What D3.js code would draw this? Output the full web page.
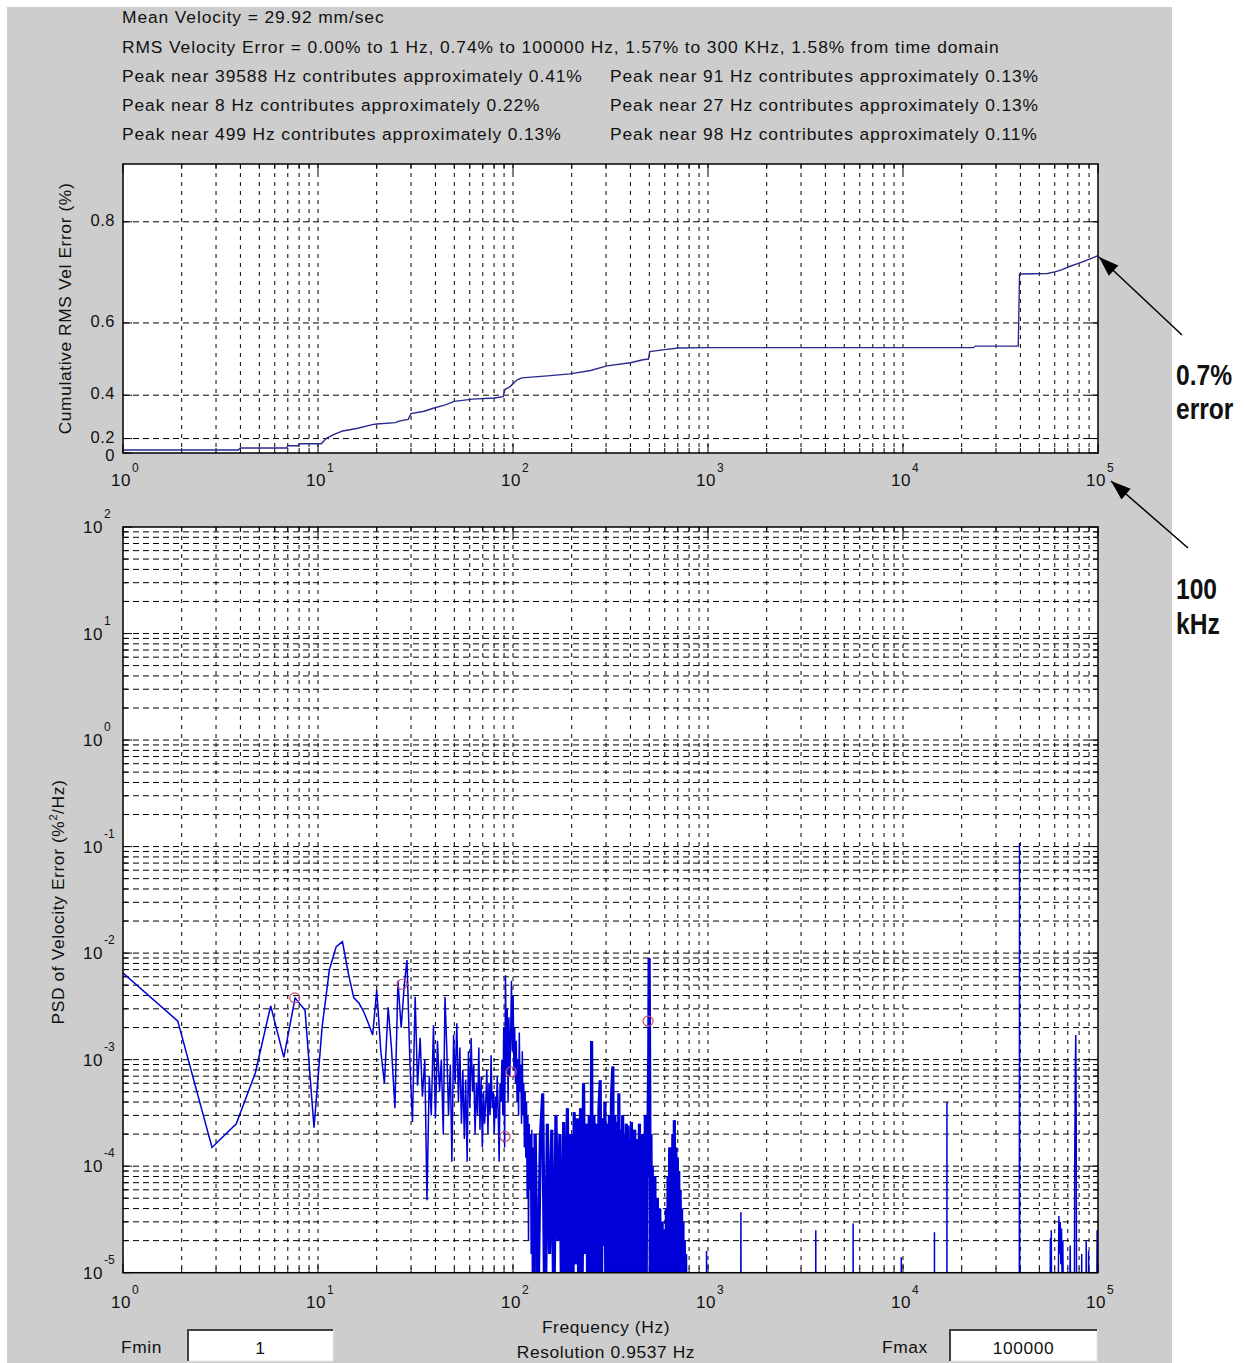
<!DOCTYPE html>
<html>
<head>
<meta charset="utf-8">
<script src="https://cdn.jsdelivr.net/npm/d3@7"></script>
<style>
  body { margin: 0; background: #fff; }
  svg text { font-family: "Liberation Sans", Arial, sans-serif; fill: #111; }
</style>
</head>
<body>
<svg id="chart" width="1244" height="1363"></svg>
<script>
// ---- text above the plots
const headerLines = [
  "Mean Velocity = 29.92 mm/sec",
  "RMS Velocity Error = 0.00% to 1 Hz, 0.74% to 100000 Hz, 1.57% to 300 KHz, 1.58% from time domain"
];
const peakNotesLeft = [
  "Peak near 39588 Hz contributes approximately 0.41%",
  "Peak near 8 Hz contributes approximately 0.22%",
  "Peak near 499 Hz contributes approximately 0.13%"
];
const peakNotesRight = [
  "Peak near 91 Hz contributes approximately 0.13%",
  "Peak near 27 Hz contributes approximately 0.13%",
  "Peak near 98 Hz contributes approximately 0.11%"
];

// ---- axes ticks
const freqExps = [0, 1, 2, 3, 4, 5];
const rmsTicks = [0, 0.2, 0.4, 0.6, 0.8];
const psdExps = [-5, -4, -3, -2, -1, 0, 1, 2];

// ---- cumulative RMS velocity error (%) vs frequency (Hz)
const cumFreq = [1, 3.9, 4, 6.9, 7, 7.9, 8, 10.4, 11, 12, 13.4, 16, 19, 20, 25, 26, 29, 30, 35, 39,
  45, 50, 62, 80, 89, 91, 95, 99, 105, 111, 150, 196, 250, 303, 400, 464, 495, 503, 600, 704,
  1000, 5000, 23000, 23500, 39000, 39600, 55000, 60000, 65000, 72000, 80000, 90000, 100000];
const cumRms = [0.091, 0.091, 0.118, 0.118, 0.142, 0.142, 0.16, 0.16, 0.2, 0.225, 0.247, 0.262, 0.28, 0.283, 0.29, 0.297, 0.305, 0.33, 0.34, 0.352,
  0.365, 0.378, 0.386, 0.39, 0.395, 0.42, 0.425, 0.435, 0.45, 0.456, 0.462, 0.468, 0.478, 0.491, 0.5, 0.508, 0.51, 0.53, 0.535, 0.539,
  0.54, 0.54, 0.54, 0.544, 0.544, 0.704, 0.705, 0.708, 0.712, 0.719, 0.725, 0.732, 0.739];

// ---- PSD of velocity error, [Hz, %^2/Hz]
const psdLowBand = [
  [0.954, 7.0e-3], [1.91, 2.3e-3], [2.86, 1.5e-4], [3.81, 2.5e-4], [4.77, 7.5e-4], [5.72, 3.2e-3],
  [6.68, 1.05e-3], [7.63, 3.8e-3], [8.58, 2.9e-3], [9.54, 2.3e-4], [10.49, 2.0e-3], [11.44, 7.0e-3],
  [12.4, 1.15e-2], [13.35, 1.28e-2], [14.3, 6.5e-3], [15.26, 3.8e-3], [16.21, 3.4e-3], [17.17, 2.8e-3],
  [18.12, 2.2e-3], [19.07, 1.7e-3]
];
const psdMidBand = [
  [20.0, 4.5e-3], [21.0, 1.2e-3], [21.9, 6.0e-4], [22.9, 3.1e-3], [23.8, 1.3e-3], [24.8, 3.5e-4],
  [25.7, 5.5e-3], [26.7, 2.0e-3], [27.7, 5.0e-3], [28.6, 8.6e-3], [29.6, 9.5e-4], [30.5, 2.6e-4],
  [31.5, 3.9e-3], [32.4, 5.7e-4], [33.4, 1.6e-3], [34.3, 4.5e-4], [35.3, 1.0e-3], [36.2, 4.8e-5],
  [37.2, 7.0e-4], [38.1, 3.0e-4], [39.1, 2.1e-3], [40.0, 2.8e-4], [41.0, 1.5e-3], [42.0, 5.0e-4],
  [42.9, 1.0e-3], [43.9, 2.0e-4], [44.8, 3.9e-3], [45.8, 1.2e-3], [46.7, 3.0e-4], [47.7, 9.0e-4],
  [48.6, 1.1e-4], [49.6, 1.7e-3], [50.5, 6.0e-4], [51.5, 2.2e-3], [52.5, 4.0e-4], [53.4, 1.3e-3],
  [54.4, 2.5e-4], [55.3, 8.0e-4], [56.3, 1.8e-4], [57.2, 6.5e-4], [58.2, 1.1e-4], [59.1, 1.2e-3],
  [60.1, 3.5e-4], [61.0, 1.6e-3], [62.0, 5.0e-4], [62.9, 9.0e-4], [63.9, 2.0e-4], [64.9, 6.0e-4],
  [65.8, 3.0e-4], [66.8, 1.3e-3], [67.7, 2.2e-4], [68.7, 7.0e-4], [69.6, 1.5e-4], [70.6, 5.0e-4],
  [71.5, 2.5e-4], [72.5, 4.0e-4], [73.4, 8.0e-4], [74.4, 2.0e-4], [75.3, 6.0e-4], [76.3, 3.0e-4],
  [77.2, 1.1e-3], [78.2, 3.5e-4], [79.2, 5.0e-4], [80.1, 2.0e-4], [81.1, 4.5e-4], [82.0, 2.8e-4],
  [83.0, 7.0e-4], [83.9, 3.5e-4], [84.9, 1.1e-4], [85.8, 6.0e-4], [86.8, 4.0e-4], [87.7, 1.0e-3],
  [88.7, 3.0e-4], [89.6, 2.0e-3], [90.6, 1.5e-4], [91.5, 6.2e-3], [92.5, 8.0e-4], [93.4, 3.0e-3],
  [94.4, 4.0e-4], [95.3, 2.5e-3], [96.3, 7.0e-4], [97.2, 1.5e-3], [98.2, 5.5e-3], [99.2, 1.2e-3],
  [100.1, 4.0e-3], [101.1, 8.0e-4], [102.0, 2.0e-3], [103.0, 6.0e-4], [103.9, 1.5e-3], [104.9, 4.0e-4],
  [105.8, 1.0e-3], [106.8, 3.0e-4], [107.7, 1.8e-3], [108.7, 5.0e-4], [109.6, 9.0e-4], [110.6, 2.5e-4],
  [111.6, 1.2e-3], [112.5, 3.0e-4], [113.5, 6.0e-4], [114.4, 1.5e-4], [115.4, 5.0e-4], [116.3, 1.2e-4],
  [117.3, 4.0e-4], [118.2, 5.0e-5], [119.2, 3.0e-4], [120.1, 2.0e-5], [121.1, 2.5e-4], [122.0, 6.0e-5],
  [123.0, 2.0e-4], [123.9, 1.5e-5], [124.9, 2.2e-4], [125.9, 4.0e-6], [126.8, 1.5e-4], [127.8, 3.0e-6],
  [128.7, 2.0e-4], [129.7, 8.0e-6]
];
const psdDenseBand = [
  [130, 2.0e-4], [134, 3e-6], [138, 1.8e-4], [142, 4.8e-4], [146, 2e-6], [150, 2.5e-4], [154, 1.5e-5],
  [158, 2.2e-4], [162, 4e-6], [166, 3.0e-4], [170, 2e-5], [174, 2.0e-4], [178, 3e-6], [182, 2.6e-4],
  [186, 5e-6], [190, 3.5e-4], [194, 8e-6], [198, 2.0e-4], [202, 2e-6], [206, 3.2e-4], [210, 1.2e-5],
  [214, 2.8e-4], [218, 3e-6], [222, 3.5e-4], [226, 6e-6], [230, 6.0e-4], [234, 1.5e-5], [238, 2.5e-4],
  [242, 4e-6], [246, 3.0e-4], [250, 2e-6], [253, 1.5e-3], [256, 5e-6], [260, 3.0e-4], [264, 8e-6],
  [268, 2.5e-4], [272, 1e-6], [276, 3.5e-4], [280, 6.4e-4], [284, 4e-6], [288, 2.8e-4], [292, 1.8e-5],
  [296, 4.0e-4], [300, 3e-6], [304, 2.5e-4], [308, 2e-6], [312, 3.0e-4], [316, 6e-6], [320, 4.5e-4],
  [325, 8.6e-4], [329, 2e-6], [333, 3.0e-4], [337, 5e-6], [341, 2.6e-4], [345, 1e-5], [349, 4.8e-4],
  [353, 3e-6], [357, 2.2e-4], [361, 4e-6], [365, 3.0e-4], [369, 2e-6], [373, 2.0e-4], [377, 6e-6],
  [381, 2.5e-4], [385, 1.5e-6], [389, 2.4e-4], [393, 4e-6], [397, 1.8e-4], [401, 2e-6], [405, 2.6e-4],
  [409, 8e-6], [413, 1.5e-4], [417, 3e-6], [421, 2.2e-4], [425, 1e-6], [429, 1.2e-4], [433, 5e-6],
  [437, 1.8e-4], [441, 2e-6], [445, 2.5e-4], [449, 4e-6], [453, 1.4e-4], [457, 2e-6], [461, 2.0e-4],
  [465, 3e-6], [469, 1.6e-4], [473, 5e-6], [477, 3.0e-4], [481, 2e-6], [485, 2.0e-4], [489, 8e-5],
  [493, 3.0e-4], [497, 1.2e-3], [499, 9.0e-3], [501, 2.0e-3], [503, 4.0e-4], [506, 6e-6], [510, 2.0e-4],
  [514, 3e-6], [518, 1.0e-4], [522, 2e-6], [526, 6e-5], [530, 1e-6], [534, 8e-5], [538, 3e-6],
  [542, 4e-5], [546, 1e-6], [550, 5e-5], [554, 2e-6], [558, 3.5e-5], [562, 1e-6], [566, 4e-5],
  [570, 2e-6], [574, 2e-5], [578, 1e-6], [582, 3e-5], [586, 2e-6], [590, 1.5e-5], [594, 1e-6],
  [600, 2.5e-5], [606, 2e-6], [612, 4e-5], [618, 1e-6], [624, 8e-5], [630, 3e-6], [636, 1.5e-4],
  [642, 2e-6], [648, 1.2e-4], [654, 5e-6], [660, 2.0e-4], [666, 3e-6], [672, 2.7e-4], [678, 4e-6],
  [684, 1.5e-4], [690, 2e-6], [696, 1.2e-4], [702, 6e-6], [708, 9e-5], [714, 2e-6], [720, 6e-5],
  [726, 3e-6], [732, 4e-5], [738, 2e-6], [744, 3e-5], [750, 1e-6], [756, 2e-5], [762, 3e-6],
  [768, 1.5e-5], [775, 1e-6], [790, 1e-6]
];
const psdHighBand = [
  [980, 1e-6], [983, 1.6e-5], [986, 1e-6], [1470, 1e-6], [1475, 3.7e-5], [1480, 1e-6],
  [3560, 1e-6], [3570, 2.5e-5], [3580, 1e-6], [5540, 1e-6], [5550, 2.9e-5], [5560, 1e-6],
  [9790, 1e-6], [9800, 1.4e-5], [9810, 1e-6], [14490, 1e-6], [14500, 2.4e-5], [14510, 1e-6],
  [16790, 1e-6], [16800, 4e-4], [16810, 1e-6],
  [39400, 1e-6], [39500, 1.5e-5], [39588, 0.108], [39680, 1.5e-5], [39800, 1e-6],
  [56500, 1e-6], [57000, 2.1e-5], [57300, 8e-6], [57600, 2.5e-5], [58000, 1e-6],
  [62000, 1e-6], [63000, 3.4e-5], [63500, 1.5e-5], [64000, 3.0e-5], [64500, 1.2e-5], [65000, 2.6e-5],
  [65500, 8e-6], [66000, 2.0e-5], [67000, 1e-6], [71000, 1e-6], [72000, 1.8e-5], [73000, 1e-6],
  [75500, 1e-6], [76000, 1.2e-4], [76500, 8e-4], [76900, 1.7e-3], [77300, 3e-4], [77800, 1e-6],
  [82000, 1e-6], [82500, 1.5e-5], [83000, 1e-6], [86500, 1e-6], [87000, 2e-5], [87500, 1e-6],
  [89000, 1e-6], [89500, 1.6e-5], [90000, 1e-6], [98000, 1e-6], [99000, 2.5e-5], [100000, 1e-6]
];
// red circles on the listed peaks
const peakMarkers = [[7.6, 3.8e-3], [27, 5.1e-3], [91, 1.9e-4], [98, 7.7e-4], [493, 2.3e-3]];

// ---- layout
const svg = d3.select("#chart");
const left = 123, right = 1098;
const top1 = 164, bottom1 = 453;
const top2 = 527, bottom2 = 1272.7;
const lineColor = "#0000d8";
const fs = 17.4;

svg.append("rect").attr("x", 7).attr("y", 7).attr("width", 1165).attr("height", 1356).attr("fill", "#cdcdcd");

const x = d3.scaleLog().domain([1, 1e5]).range([left, right]);
const yRms = d3.scalePow().exponent(2).domain([0, Math.sqrt(0.8)]).range([bottom1, top1]);
const yPsd = d3.scaleLog().domain([1e-5, 1e2]).range([bottom2, top2]);

// header text
const txt = (g, s, tx, ty) =>
  g.append("text").attr("x", tx).attr("y", ty).attr("font-size", fs)
    .attr("letter-spacing", 0.9).text(s);
txt(svg, headerLines[0], 122, 23);
txt(svg, headerLines[1], 122, 53);
peakNotesLeft.forEach((s, i) => txt(svg, s, 122, 82 + i * 29));
peakNotesRight.forEach((s, i) => txt(svg, s, 610, 82 + i * 29));

// minor values for log axes
function logValues(lo, hi) {
  const out = [];
  for (let e = lo; e < hi; e++) for (let m = 1; m < 10; m++) out.push(m * Math.pow(10, e));
  out.push(Math.pow(10, hi));
  return out;
}
const xValues = logValues(0, 5);
const psdValues = logValues(-5, 2);

function drawFrame(g, yTop, yBot, yScale, yGrid, yMajor) {
  g.append("rect").attr("x", left).attr("y", yTop).attr("width", right - left).attr("height", yBot - yTop)
    .attr("fill", "#fff");
  // vertical grid
  g.selectAll(".vg").data(xValues.filter(v => v > 1 && v < 1e5)).enter().append("line")
    .attr("x1", d => x(d)).attr("x2", d => x(d)).attr("y1", yTop).attr("y2", yBot)
    .attr("stroke", "#000").attr("stroke-width", 1).attr("stroke-dasharray", "4,5");
  // horizontal grid
  g.selectAll(".hg").data(yGrid).enter().append("line")
    .attr("x1", left).attr("x2", right).attr("y1", d => yScale(d)).attr("y2", d => yScale(d))
    .attr("stroke", "#000").attr("stroke-width", 1).attr("stroke-dasharray", "6,4");
  // ticks inside the box
  xValues.forEach(v => {
    const len = Number.isInteger(Math.log10(v)) ? 9 : 5;
    g.append("line").attr("x1", x(v)).attr("x2", x(v)).attr("y1", yBot).attr("y2", yBot - len).attr("stroke", "#000");
    g.append("line").attr("x1", x(v)).attr("x2", x(v)).attr("y1", yTop).attr("y2", yTop + len).attr("stroke", "#000");
  });
  yMajor.forEach(v => {
    const len = v.major ? 9 : 5;
    g.append("line").attr("x1", left).attr("x2", left + len).attr("y1", yScale(v.v)).attr("y2", yScale(v.v)).attr("stroke", "#000");
    g.append("line").attr("x1", right).attr("x2", right - len).attr("y1", yScale(v.v)).attr("y2", yScale(v.v)).attr("stroke", "#000");
  });
}

function powLabel(g, tx, ty, exp, anchor) {
  if (anchor === "end") {
    g.append("text").attr("x", tx).attr("y", ty - 9).attr("font-size", 12).text(String(exp));
    g.append("text").attr("x", tx - 1).attr("y", ty + 6).attr("font-size", 17).attr("letter-spacing", 0.5)
      .attr("text-anchor", "end").text("10");
  } else {
    g.append("text").attr("x", tx - 2).attr("y", ty).attr("font-size", 17).attr("letter-spacing", 0.5)
      .attr("text-anchor", "middle").text("10");
    g.append("text").attr("x", tx + 9).attr("y", ty - 14).attr("font-size", 12).text(String(exp));
  }
}

// ---- top plot
const gTop = svg.append("g");
drawFrame(gTop, top1, bottom1, yRms, rmsTicks.filter(v => v > 0),
  rmsTicks.map(v => ({ v, major: true })));
gTop.append("path")
  .datum(cumFreq.map((f, i) => [f, cumRms[i]]))
  .attr("fill", "none").attr("stroke", "#2a2a8c").attr("stroke-width", 1.4)
  .attr("d", d3.line().x(d => x(d[0])).y(d => yRms(d[1])));
gTop.append("rect").attr("x", left).attr("y", top1).attr("width", right - left).attr("height", bottom1 - top1)
  .attr("fill", "none").attr("stroke", "#000").attr("stroke-width", 1.5);
rmsTicks.forEach(v => {
  gTop.append("text").attr("x", 115).attr("y", yRms(v) + (v === 0 ? 8 : 4)).attr("text-anchor", "end")
    .attr("font-size", 16.5).attr("letter-spacing", 0.5).text(v === 0 ? "0" : v.toFixed(1));
});
freqExps.forEach(e => powLabel(gTop, x(Math.pow(10, e)), 486, e));
gTop.append("text").attr("transform", `translate(71,${(top1 + bottom1) / 2}) rotate(-90)`)
  .attr("text-anchor", "middle").attr("font-size", fs).attr("letter-spacing", 0.6)
  .text("Cumulative RMS Vel Error (%)");

// ---- bottom plot
const gBot = svg.append("g");
drawFrame(gBot, top2, bottom2, yPsd, psdValues.filter(v => v > 1e-5 && v < 1e2),
  psdValues.map(v => ({ v, major: Number.isInteger(Math.log10(v)) })));
svg.append("clipPath").attr("id", "psdClip").append("rect")
  .attr("x", left).attr("y", top2).attr("width", right - left).attr("height", bottom2 - top2);
const psdLine = d3.line().x(d => x(d[0])).y(d => yPsd(d[1]));
const psdAll = psdLowBand.concat(psdMidBand, psdDenseBand, psdHighBand);
gBot.append("path")
  .datum(psdAll)
  .attr("clip-path", "url(#psdClip)")
  .attr("fill", "none").attr("stroke", lineColor).attr("stroke-width", 1.5)
  .attr("d", psdLine);
// the dense band is many bins per pixel: draw it heavier so it reads as solid
gBot.append("path")
  .datum(psdDenseBand)
  .attr("clip-path", "url(#psdClip)")
  .attr("fill", "none").attr("stroke", lineColor).attr("stroke-width", 3.2)
  .attr("d", psdLine);
gBot.selectAll(".pk").data(peakMarkers).enter().append("circle")
  .attr("cx", d => x(d[0])).attr("cy", d => yPsd(d[1])).attr("r", 5)
  .attr("fill", "none").attr("stroke", "#c8506e").attr("stroke-width", 1.2);
gBot.append("rect").attr("x", left).attr("y", top2).attr("width", right - left).attr("height", bottom2 - top2)
  .attr("fill", "none").attr("stroke", "#000").attr("stroke-width", 1.5);
psdExps.forEach(e => powLabel(gBot, 104, yPsd(Math.pow(10, e)), e, "end"));
freqExps.forEach(e => powLabel(gBot, x(Math.pow(10, e)), 1308, e));
const psdLabel = gBot.append("text").attr("transform", `translate(64,902) rotate(-90)`)
  .attr("text-anchor", "middle").attr("font-size", fs).attr("letter-spacing", 0.6);
psdLabel.append("tspan").text("PSD of Velocity Error (%");
psdLabel.append("tspan").attr("dy", -7).attr("font-size", 11).text("2");
psdLabel.append("tspan").attr("dy", 7).text("/Hz)");

// ---- bottom controls
svg.append("text").attr("x", 606).attr("y", 1333).attr("text-anchor", "middle").attr("font-size", fs)
  .attr("letter-spacing", 0.6).text("Frequency (Hz)");
svg.append("text").attr("x", 606).attr("y", 1358).attr("text-anchor", "middle").attr("font-size", fs)
  .attr("letter-spacing", 0.6).text("Resolution 0.9537 Hz");
function inputBox(label, lx, bx, bw, value) {
  svg.append("text").attr("x", lx).attr("y", 1353).attr("font-size", fs).attr("letter-spacing", 0.6).text(label);
  svg.append("rect").attr("x", bx).attr("y", 1330).attr("width", bw).attr("height", 31)
    .attr("fill", "#fff").attr("stroke", "#e8e8e8");
  svg.append("path").attr("d", `M${bx},${1361}V1330H${bx + bw}`).attr("fill", "none")
    .attr("stroke", "#404040").attr("stroke-width", 2);
  svg.append("text").attr("x", bx + bw / 2).attr("y", 1354).attr("text-anchor", "middle")
    .attr("font-size", fs).attr("letter-spacing", 0.6).text(value);
}
inputBox("Fmin", 121, 188, 145, "1");
inputBox("Fmax", 882, 950, 147, "100000");

// ---- annotations on the right
function arrow(x1, y1, x2, y2) {
  svg.append("line").attr("x1", x1).attr("y1", y1).attr("x2", x2).attr("y2", y2)
    .attr("stroke", "#000").attr("stroke-width", 1.5);
  const a = Math.atan2(y2 - y1, x2 - x1), L = 20, w = 7;
  const bx = x2 - L * Math.cos(a), by = y2 - L * Math.sin(a);
  svg.append("polygon").attr("points", [
    [x2, y2], [bx + w * Math.sin(a), by - w * Math.cos(a)], [bx - w * Math.sin(a), by + w * Math.cos(a)]
  ].map(p => p.join(",")).join(" ")).attr("fill", "#000");
}
arrow(1182, 335, 1099, 257);
arrow(1188, 548, 1111, 481);
// narrow bold labels (condensed horizontally)
const note = (s, tx, ty) => svg.append("text")
  .attr("transform", `translate(${tx},${ty}) scale(0.82,1)`)
  .attr("font-weight", "bold").attr("font-size", 30).text(s);
note("0.7%", 1176, 385);
note("error", 1176, 419);
note("100", 1176, 599);
note("kHz", 1176, 634);
</script>
</body>
</html>
